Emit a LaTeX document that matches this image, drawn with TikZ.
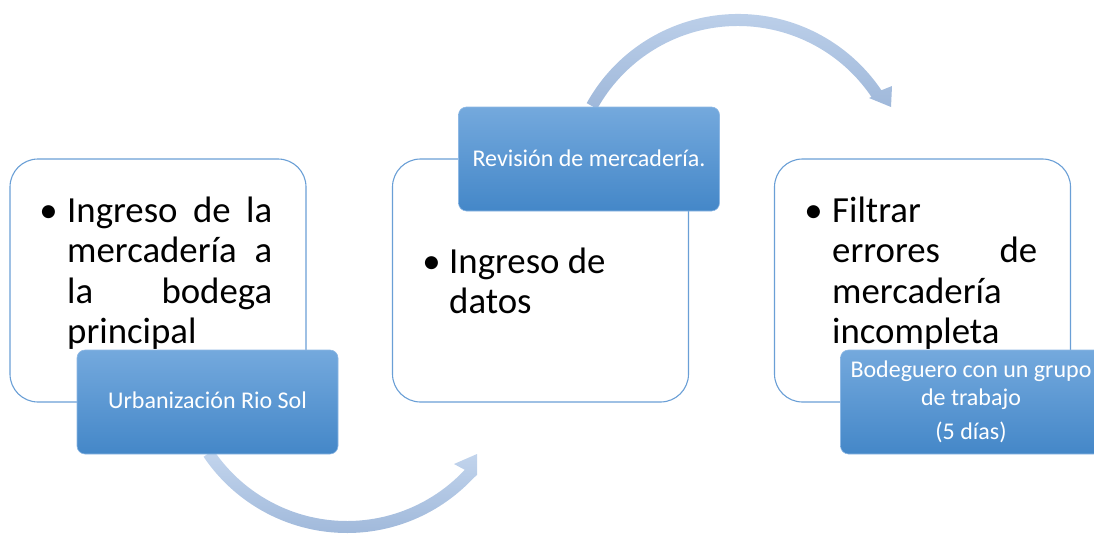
\documentclass[tikz,border=0pt]{standalone}
\usepackage{fontspec}
\setmainfont{Carlito}
\definecolor{boxline}{HTML}{6A9FD6}
\definecolor{labtop}{HTML}{74A9DD}
\definecolor{labbot}{HTML}{4487C8}
\definecolor{labline}{HTML}{8EB8E4}
\definecolor{arrtop}{HTML}{C3D5ED}
\definecolor{arrbot}{HTML}{9FB8DA}
\begin{document}
\begin{tikzpicture}[x=1pt,y=1pt,
  card/.style={draw=boxline, line width=1.1pt, fill=white, rounded corners=28pt, minimum width=296pt, minimum height=243pt, inner sep=0},
  tag/.style={draw=labline, line width=0.6pt, top color=labtop, bottom color=labbot, rounded corners=8pt, minimum width=261pt, minimum height=104pt, inner sep=0},
  big/.style={font=\fontsize{36.8}{40.5}\selectfont, anchor=base west, inner sep=0},
  dot/.style={font=\fontsize{36.8}{40.5}\selectfont, anchor=base east, inner sep=0},
  small/.style={font=\fontsize{24}{27.3}\selectfont, text=white, anchor=base, inner sep=0},
  flow/.style={top color=arrtop, bottom color=arrbot, draw=none}
]
\useasboundingbox (0,0) rectangle (1094,-533);
% curved arrows
\shade[flow] ([shift={(347,-360)}]214:173) arc[start angle=214,end angle=317,radius=173]
  -- (477,-475) -- (477,-454) -- (454,-464)
  -- ([shift={(347,-360)}]317:161) arc[start angle=317,end angle=214,radius=161] -- cycle;
\shade[flow] ([shift={(738,-187)}]151:173) arc[start angle=151,end angle=34,radius=173]
  -- (892,-86) -- (891,-107) -- (869,-98)
  -- ([shift={(738,-187)}]34:161) arc[start angle=34,end angle=151,radius=161] -- cycle;
% cards
\node[card] (c1) at (158,-280.5) {};
\node[card] (c2) at (540.5,-280.5) {};
\node[card] (c3) at (922.5,-280.5) {};
% card texts
\node[dot] (b1) at (58,-222) {•};
\node[big] (t1) at (67,-222) {\parbox[t]{205pt}{%
\makebox[205pt][s]{Ingreso de la}\\
\makebox[205pt][s]{mercadería a}\\
\makebox[205pt][s]{la bodega}\\
principal}};
\node[dot] (b2) at (441,-273) {•};
\node[big] (t2) at (449,-273) {\parbox[t]{220pt}{Ingreso de\\ datos}};
\node[dot] (b3) at (823,-222) {•};
\node[big] (t3) at (832,-222) {\parbox[t]{205pt}{%
Filtrar\\
\makebox[205pt][s]{errores de}\\
mercadería\\
incompleta}};
% tags
\node[tag] (l1) at (207.5,-402) {};
\node[small] (s1) at (207.5,-408) {Urbanización Rio Sol};
\node[tag] (l2) at (589,-159) {};
\node[small] (s2) at (589,-166) {Revisión de mercadería.};
\node[tag] (l3) at (971,-402) {};
\node[small] (s3) at (971,-377.7) {\parbox[t]{262pt}{\centering Bodeguero con un grupo\\ de trabajo\\[6.7pt] (5 días)}};
\end{tikzpicture}
\end{document}
